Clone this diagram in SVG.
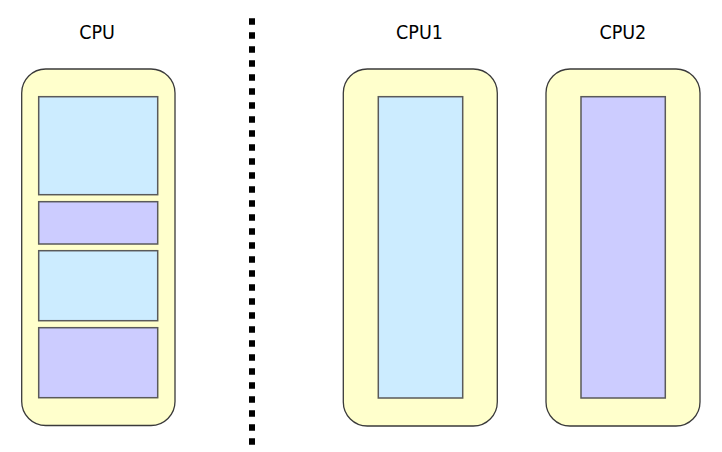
<svg xmlns="http://www.w3.org/2000/svg" width="722" height="452" viewBox="0 0 722 452">
<style>
.outer{fill:#FFFFCC;stroke:#3a3a3a;stroke-width:1.3}
.blue{fill:#CCECFF;stroke:#5a5a5a;stroke-width:1.5}
.purple{fill:#CCCCFF;stroke:#5a5a5a;stroke-width:1.5}
.lbl{font-family:"DejaVu Sans Condensed","DejaVu Sans",sans-serif;font-size:19.5px;fill:#000;text-anchor:middle}
.sep{stroke:#000;stroke-width:6;stroke-dasharray:6.5 7.5;fill:none}
</style>
<rect width="722" height="452" fill="#fff"/>
<g id="cpu">
<text class="lbl" x="97" y="38.5">CPU</text>
<rect class="outer" x="21.7" y="69" width="153.3" height="356.5" rx="24" ry="24"/>
<rect class="blue" x="38.7" y="96.7" width="119" height="98"/>
<rect class="purple" x="38.7" y="201.7" width="119" height="42.3"/>
<rect class="blue" x="38.7" y="250.7" width="119" height="70"/>
<rect class="purple" x="38.7" y="327.7" width="119" height="70"/>
</g>
<g id="separator">
<line class="sep" x1="252" y1="18.3" x2="252" y2="452"/>
</g>
<g id="cpu1">
<text class="lbl" x="419.5" y="38.5">CPU1</text>
<rect class="outer" x="343.3" y="69" width="154" height="357" rx="24" ry="24"/>
<rect class="blue" x="378.3" y="96.7" width="84.4" height="301.3"/>
</g>
<g id="cpu2">
<text class="lbl" x="622.8" y="38.5">CPU2</text>
<rect class="outer" x="546" y="69" width="154" height="357" rx="24" ry="24"/>
<rect class="purple" x="581" y="96.7" width="84.3" height="301.3"/>
</g>
</svg>
